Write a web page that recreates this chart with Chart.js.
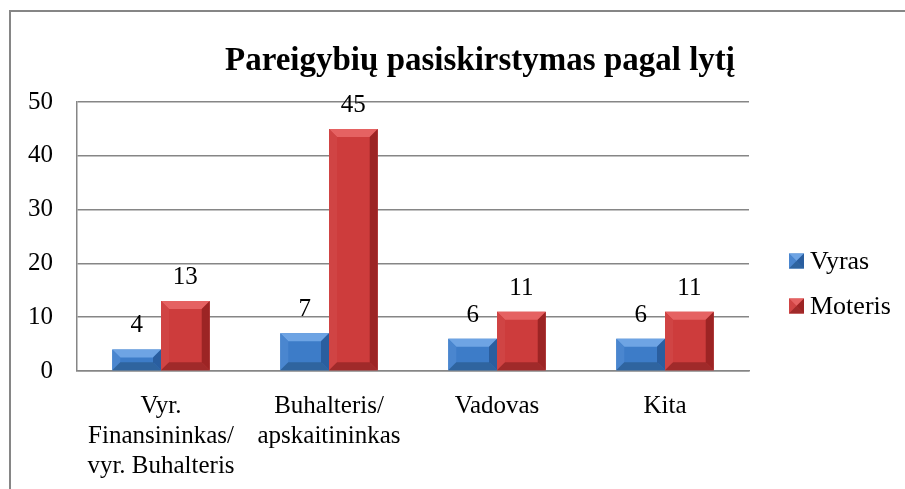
<!DOCTYPE html>
<html>
<head>
<meta charset="utf-8">
<script src="https://cdn.jsdelivr.net/npm/chart.js@4.4.1/dist/chart.umd.min.js"></script>
<style>
html,body{margin:0;padding:0;background:#fff;}
#wrap{width:905px;height:489px;}
</style>
</head>
<body>
<div id="wrap"><canvas id="c" width="905" height="489"></canvas></div>
<script>
const titleText = 'Pareigybių pasiskirstymas pagal lytį';
const categories = [['Vyr.', 'Finansininkas/', 'vyr. Buhalteris'], ['Buhalteris/', 'apskaitininkas'], 'Vadovas', 'Kita'];
const seriesNames = ['Vyras', 'Moteris'];
const vyras = [4, 7, 6, 6];
const moteris = [13, 45, 11, 11];
const yTicks = [0, 10, 20, 30, 40, 50];

const FONT = "'Liberation Serif', 'Times New Roman', serif";
const palettes = [
  {face: '#3d7cc8', top: '#6ea4e4', left: '#4a86cf', right: '#2a5e9f', bottom: '#2f649f'},
  {face: '#cd3c3c', top: '#e56262', left: '#d04444', right: '#9c2424', bottom: '#a02a2a'}
];

function poly(ctx, pts, color){
  ctx.beginPath();
  ctx.moveTo(pts[0][0], pts[0][1]);
  for (let i = 1; i < pts.length; i++) ctx.lineTo(pts[i][0], pts[i][1]);
  ctx.closePath();
  ctx.fillStyle = color;
  ctx.fill();
}
function bevel(ctx, l, t, r, b, p, kmax){
  const k = Math.min(kmax, (b - t) / 2, (r - l) / 2);
  poly(ctx, [[l,t],[r,t],[r-k,t+k],[l+k,t+k]], p.top);
  poly(ctx, [[l,t],[l+k,t+k],[l+k,b-k],[l,b]], p.left);
  poly(ctx, [[r,t],[r,b],[r-k,b-k],[r-k,t+k]], p.right);
  poly(ctx, [[l,b],[l+k,b-k],[r-k,b-k],[r,b]], p.bottom);
}

const framePlugin = {
  id: 'frame',
  beforeDraw(chart){
    const ctx = chart.ctx;
    ctx.save();
    ctx.fillStyle = '#fff';
    ctx.fillRect(0, 0, chart.width, chart.height);
    ctx.strokeStyle = '#868686';
    ctx.lineWidth = 2;
    ctx.beginPath();
    ctx.moveTo(10, chart.height + 5);
    ctx.lineTo(10, 11);
    ctx.lineTo(chart.width + 5, 11);
    ctx.stroke();
    ctx.restore();
  }
};

const barDecor = {
  id: 'barDecor',
  afterDatasetsDraw(chart){
    const ctx = chart.ctx;
    ctx.save();
    chart.data.datasets.forEach((ds, di) => {
      const meta = chart.getDatasetMeta(di);
      meta.data.forEach((bar, i) => {
        const p = bar.getProps(['x','y','base','width'], true);
        const l = p.x - p.width / 2, r = p.x + p.width / 2;
        bevel(ctx, l, p.y, r, p.base, palettes[di], 8);
        ctx.fillStyle = '#000';
        ctx.font = '25px ' + FONT;
        ctx.textAlign = 'center';
        ctx.textBaseline = 'alphabetic';
        ctx.fillText(String(ds.data[i]), p.x, p.y - 17);
      });
    });
    ctx.restore();
  }
};

const titleLegend = {
  id: 'titleLegend',
  afterDraw(chart){
    const ctx = chart.ctx;
    ctx.save();
    ctx.fillStyle = '#000';
    ctx.font = 'bold 33px ' + FONT;
    ctx.textAlign = 'center';
    ctx.textBaseline = 'alphabetic';
    ctx.fillText(titleText, 480, 70);
    const ys = [261, 306];
    seriesNames.forEach((n, i) => {
      const x0 = 789, y0 = ys[i] - 7.5, s = 15;
      ctx.fillStyle = palettes[i].face;
      ctx.fillRect(x0, y0, s, s);
      bevel(ctx, x0, y0, x0 + s, y0 + s, palettes[i], 7.5);
      ctx.fillStyle = '#000';
      ctx.font = '26px ' + FONT;
      ctx.textAlign = 'left';
      ctx.textBaseline = 'middle';
      ctx.fillText(n, 810, ys[i] + 1);
    });
    ctx.restore();
  }
};

new Chart(document.getElementById('c'), {
  type: 'bar',
  data: {
    labels: categories,
    datasets: [
      {label: seriesNames[0], data: vyras, backgroundColor: palettes[0].face, borderWidth: 0},
      {label: seriesNames[1], data: moteris, backgroundColor: palettes[1].face, borderWidth: 0}
    ]
  },
  options: {
    responsive: false,
    animation: false,
    events: [],
    layout: {padding: {left: 10, top: 102, right: 156, bottom: 0}},
    datasets: {bar: {categoryPercentage: 0.58, barPercentage: 1}},
    plugins: {legend: {display: false}, tooltip: {enabled: false}, title: {display: false}},
    scales: {
      x: {
        grid: {display: false},
        border: {display: true, color: '#868686', width: 1.5},
        ticks: {color: '#000', font: {family: FONT, size: 25, lineHeight: 1.2}, padding: 12, maxRotation: 0, minRotation: 0, autoSkip: false},
        afterFit(s){ s.height = 118; }
      },
      y: {
        min: 0, max: 50,
        afterBuildTicks(s){ s.ticks = yTicks.map(v => ({value: v})); },
        grid: {color: '#868686', lineWidth: 1.5, drawTicks: false},
        border: {display: true, color: '#868686', width: 1.5},
        ticks: {color: '#000', font: {family: FONT, size: 25}, padding: 24},
        afterFit(s){ s.width = 67; }
      }
    }
  },
  plugins: [framePlugin, barDecor, titleLegend]
});
</script>
</body>
</html>
